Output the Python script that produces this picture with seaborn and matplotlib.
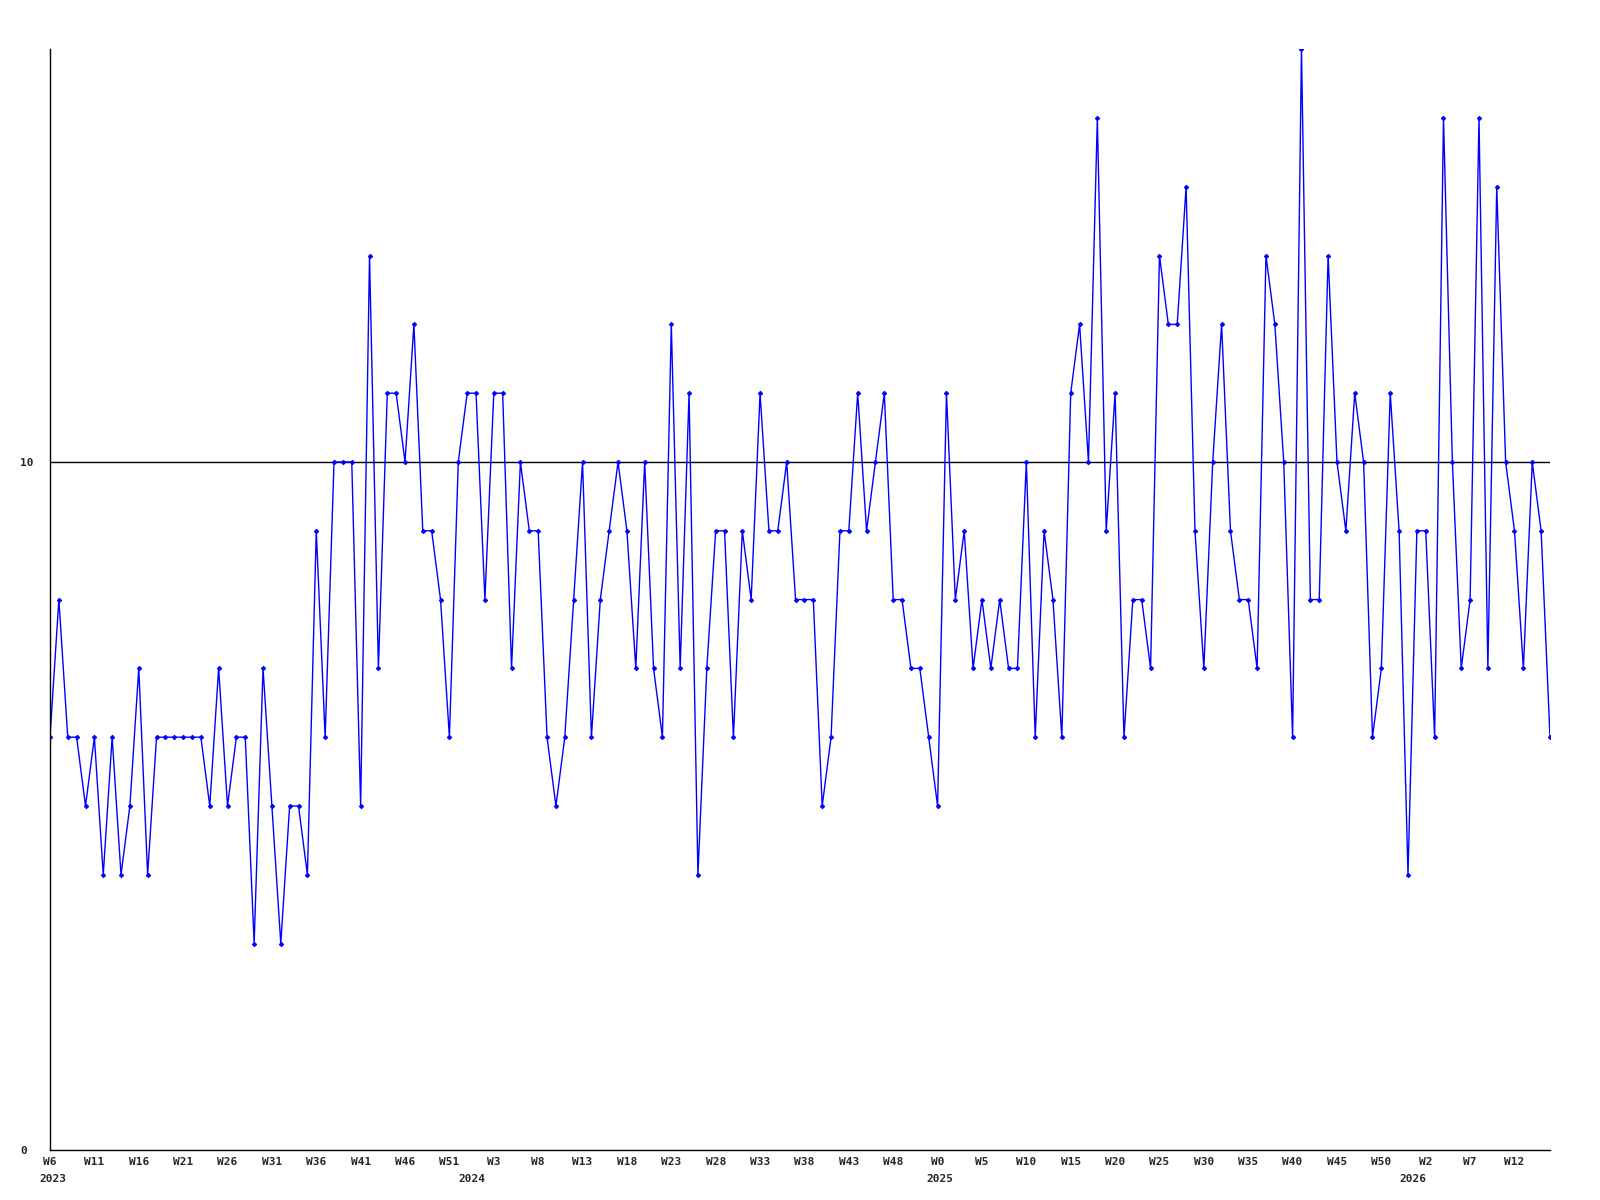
import matplotlib
matplotlib.use("Agg")
import matplotlib.pyplot as plt
import matplotlib.transforms as mtransforms
import numpy as np
import pandas as pd
import seaborn as sns

# ---- data ----
values = [
    6, 8, 6, 6, 5, 6, 4, 6, 4, 5, 7, 4, 6, 6, 6, 6, 6, 6, 5, 7,
    5, 6, 6, 3, 7, 5, 3, 5, 5, 4, 9, 6, 10, 10, 10, 5, 13, 7, 11, 11,
    10, 12, 9, 9, 8, 6, 10, 11, 11, 8, 11, 11, 7, 10, 9, 9, 6, 5, 6, 8,
    10, 6, 8, 9, 10, 9, 7, 10, 7, 6, 12, 7, 11, 4, 7, 9, 9, 6, 9, 8,
    11, 9, 9, 10, 8, 8, 8, 5, 6, 9, 9, 11, 9, 10, 11, 8, 8, 7, 7, 6,
    5, 11, 8, 9, 7, 8, 7, 8, 7, 7, 10, 6, 9, 8, 6, 11, 12, 10, 15, 9,
    11, 6, 8, 8, 7, 13, 12, 12, 14, 9, 7, 10, 12, 9, 8, 8, 7, 13, 12, 10,
    6, 16, 8, 8, 13, 10, 9, 11, 10, 6, 7, 11, 9, 4, 9, 9, 6, 15, 10, 7,
    8, 15, 7, 14, 10, 9, 7, 10, 9, 6,
]
tick_labels = [
    "W6", "W11", "W16", "W21", "W26", "W31", "W36", "W41", "W46", "W51",
    "W3", "W8", "W13", "W18", "W23", "W28", "W33", "W38", "W43", "W48",
    "W0", "W5", "W10", "W15", "W20", "W25", "W30", "W35", "W40", "W45",
    "W50", "W2", "W7", "W12",
]
year_labels = ["2023", "2024", "2025", "2026"]
year_pos = [0.3, 47.5, 100.3, 153.5]
y_ticks = [0, 10]
ref_value = 10

df = pd.DataFrame({"idx": np.arange(len(values)), "value": values})

# ---- figure ----
sns.set_style("white")
plt.rcParams["font.family"] = ["DejaVu Sans Mono"]
fig = plt.figure(figsize=(16, 12), dpi=100)
ax = fig.add_axes([0.03125, 0.0417, 0.9375, 0.9173])

sns.lineplot(data=df, x="idx", y="value", ax=ax, color="#0000FF",
             linewidth=1.0, marker="D", markersize=2.2,
             markeredgecolor="#0000FF", markerfacecolor="#0000FF")

ax.axhline(ref_value, color="black", linewidth=1.0, zorder=1)

ax.set_xlim(0, len(values) - 1)
ax.set_ylim(0, 16)

for s in ["top", "right"]:
    ax.spines[s].set_visible(False)
for s in ["left", "bottom"]:
    ax.spines[s].set_color("black")
    ax.spines[s].set_linewidth(1.0)

ax.set_yticks(y_ticks)
ax.set_yticklabels([str(v) for v in y_ticks], fontsize=8, fontweight="bold")
for lab in ax.get_yticklabels():
    lab.set_horizontalalignment("left")
ax.tick_params(axis="y", length=0, pad=21.5)

ax.set_xticks(np.arange(0, len(values), 5)[: len(tick_labels)])
ax.set_xticklabels(tick_labels, fontsize=8, fontweight="bold")
ax.tick_params(axis="x", length=0, pad=5)

trans = mtransforms.blended_transform_factory(ax.transData, ax.transAxes)
for lab, pos in zip(year_labels, year_pos):
    ax.text(pos, -0.0215, lab, transform=trans, ha="center", va="top",
            fontsize=8, fontweight="bold")

ax.set_xlabel("")
ax.set_ylabel("")
ax.grid(False)

fig.savefig("out.png", dpi=100, facecolor="white")
